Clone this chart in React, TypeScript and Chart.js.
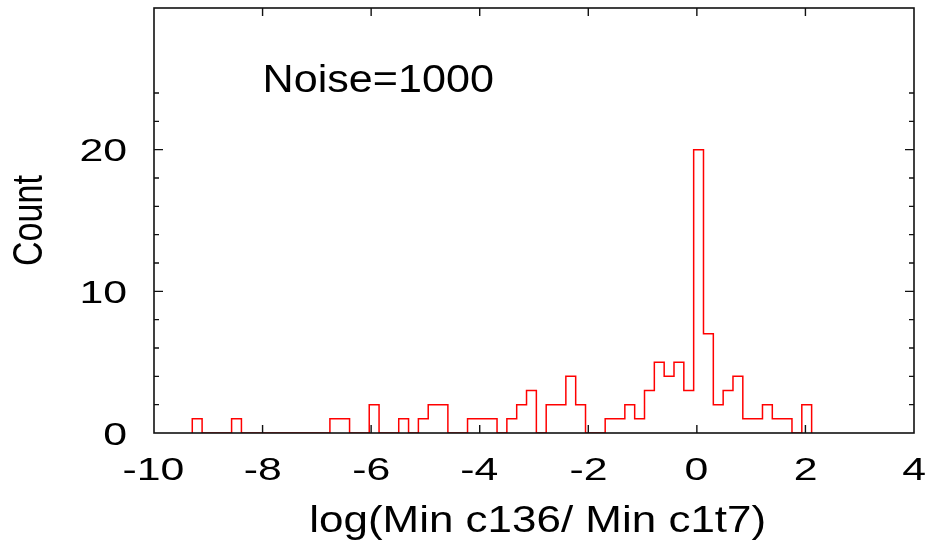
import React, { useEffect, useRef } from 'react';
import { Chart, registerables } from 'chart.js';

Chart.register(...registerables);

// Histogram bins (left edge of first bin and bin width, in log units)
const binStart = -9.295;
const binWidth = 0.1811;
// Counts per bin
const counts = [
  1, 0, 0, 0, 1, 0, 0, 0, 0, 0,
  0, 0, 0, 0, 1, 1, 0, 0, 2, 0,
  0, 1, 0, 1, 2, 2, 0, 0, 1, 1,
  1, 0, 1, 2, 3, 0, 2, 2, 4, 2,
  0, 0, 1, 1, 2, 1, 3, 5, 4, 5,
  3, 20, 7, 2, 3, 4, 1, 1, 2, 1,
  1, 0, 2,
];

const xTicks = [-10, -8, -6, -4, -2, 0, 2, 4];
const yLabelTicks = [0, 10, 20];
const yMajorTicks = [10, 20];
const yMinorTicks = [2, 4, 6, 8, 12, 14, 16, 18, 22, 24];
const xTitle = 'log(Min c136/ Min c1t7)';
const yTitle = 'Count';
const annotation = 'Noise=1000';

const FONT = '"Liberation Sans", Arial, Helvetica, sans-serif';

type TextOpts = {
  x: number; // anchor x (left/center/right of ink)
  y: number; // baseline
  align: 'left' | 'center' | 'right';
  size: number;
  sx?: number;
  targetWidth?: number;
  targetAscent?: number;
};

function drawText(ctx: CanvasRenderingContext2D, text: string, o: TextOpts) {
  ctx.save();
  ctx.font = `${o.size}px ${FONT}`;
  ctx.textAlign = 'left';
  ctx.textBaseline = 'alphabetic';
  const m = ctx.measureText(text);
  const inkW = m.actualBoundingBoxLeft + m.actualBoundingBoxRight;
  const sx = o.targetWidth ? o.targetWidth / inkW : o.sx ?? 1;
  const sy = o.targetAscent ? o.targetAscent / m.actualBoundingBoxAscent : 1;
  let left = o.x;
  if (o.align === 'center') left = o.x - (inkW * sx) / 2;
  else if (o.align === 'right') left = o.x - inkW * sx;
  ctx.translate(left, o.y);
  ctx.scale(sx, sy);
  ctx.fillStyle = '#000';
  ctx.fillText(text, m.actualBoundingBoxLeft, 0);
  ctx.restore();
}

const framePlugin = {
  id: 'framePlugin',
  afterDatasetsDraw(chart: any) {
    const ctx: CanvasRenderingContext2D = chart.ctx;
    const { left, right, top, bottom } = chart.chartArea;
    const xs = chart.scales.x;
    const ys = chart.scales.y;
    ctx.save();
    ctx.strokeStyle = '#111';
    ctx.lineWidth = 1.6;
    ctx.strokeRect(left, top, right - left, bottom - top);

    ctx.lineWidth = 1.4;
    ctx.beginPath();
    xTicks.forEach((v) => {
      if (v <= xs.min || v >= xs.max) return;
      const px = xs.getPixelForValue(v);
      ctx.moveTo(px, bottom);
      ctx.lineTo(px, bottom - 8);
      ctx.moveTo(px, top);
      ctx.lineTo(px, top + 8);
    });
    yMajorTicks.forEach((v) => {
      const py = ys.getPixelForValue(v);
      ctx.moveTo(left, py);
      ctx.lineTo(left + 9, py);
      ctx.moveTo(right, py);
      ctx.lineTo(right - 9, py);
    });
    yMinorTicks.forEach((v) => {
      const py = ys.getPixelForValue(v);
      ctx.moveTo(left, py);
      ctx.lineTo(left + 5, py);
      ctx.moveTo(right, py);
      ctx.lineTo(right - 5, py);
    });
    ctx.stroke();
    ctx.restore();

    // tick labels
    xTicks.forEach((v) => {
      const px = xs.getPixelForValue(v);
      drawText(ctx, String(v), { x: px, y: 480, align: 'center', size: 31, sx: 1.38 });
    });
    yLabelTicks.forEach((v) => {
      const py = ys.getPixelForValue(v);
      drawText(ctx, String(v), { x: 126.7, y: py + 11.6, align: 'right', size: 31, sx: 1.38 });
    });

    // x title
    drawText(ctx, xTitle, {
      x: 311.7, y: 532.3, align: 'left', size: 36, targetWidth: 452, targetAscent: 28,
    });

    // annotation
    drawText(ctx, annotation, {
      x: 266, y: 91.7, align: 'left', size: 38, targetWidth: 226.7, targetAscent: 28,
    });

    // y title (rotated)
    ctx.save();
    ctx.font = `32px ${FONT}`;
    const m = ctx.measureText(yTitle);
    const inkW = m.actualBoundingBoxLeft + m.actualBoundingBoxRight;
    const sAlong = 90 / inkW;
    const sPerp = 29 / m.actualBoundingBoxAscent;
    ctx.translate(41.7, 220);
    ctx.rotate(-Math.PI / 2);
    ctx.scale(sAlong, sPerp);
    ctx.fillStyle = '#000';
    ctx.textAlign = 'left';
    ctx.textBaseline = 'alphabetic';
    ctx.fillText(yTitle, -inkW / 2 + m.actualBoundingBoxLeft, 0);
    ctx.restore();
  },
};

export default function App() {
  const ref = useRef<HTMLCanvasElement | null>(null);

  useEffect(() => {
    if (!ref.current) return;
    const points = [
      { x: binStart, y: 0 },
      ...counts.map((c, i) => ({ x: binStart + i * binWidth, y: c })),
      { x: binStart + counts.length * binWidth, y: 0 },
    ];
    const chart = new Chart(ref.current, {
      type: 'line',
      data: {
        datasets: [
          {
            data: points,
            stepped: 'before',
            borderColor: '#ff0000',
            borderWidth: 1.5,
            pointRadius: 0,
            fill: false,
            tension: 0,
          },
        ],
      },
      options: {
        animation: false,
        responsive: false,
        maintainAspectRatio: false,
        layout: { padding: { left: 154, right: 22, top: 8, bottom: 109 } },
        plugins: { legend: { display: false }, tooltip: { enabled: false } },
        scales: {
          x: { type: 'linear', min: -10, max: 4, display: false },
          y: { type: 'linear', min: 0, max: 30, display: false },
        },
      },
      plugins: [framePlugin],
    } as any);
    return () => chart.destroy();
  }, []);

  return (
    <div style={{ position: 'fixed', left: 0, top: 0, width: 936, height: 542, background: '#fff' }}>
      <canvas ref={ref} width={936} height={542} style={{ display: 'block' }} />
    </div>
  );
}
